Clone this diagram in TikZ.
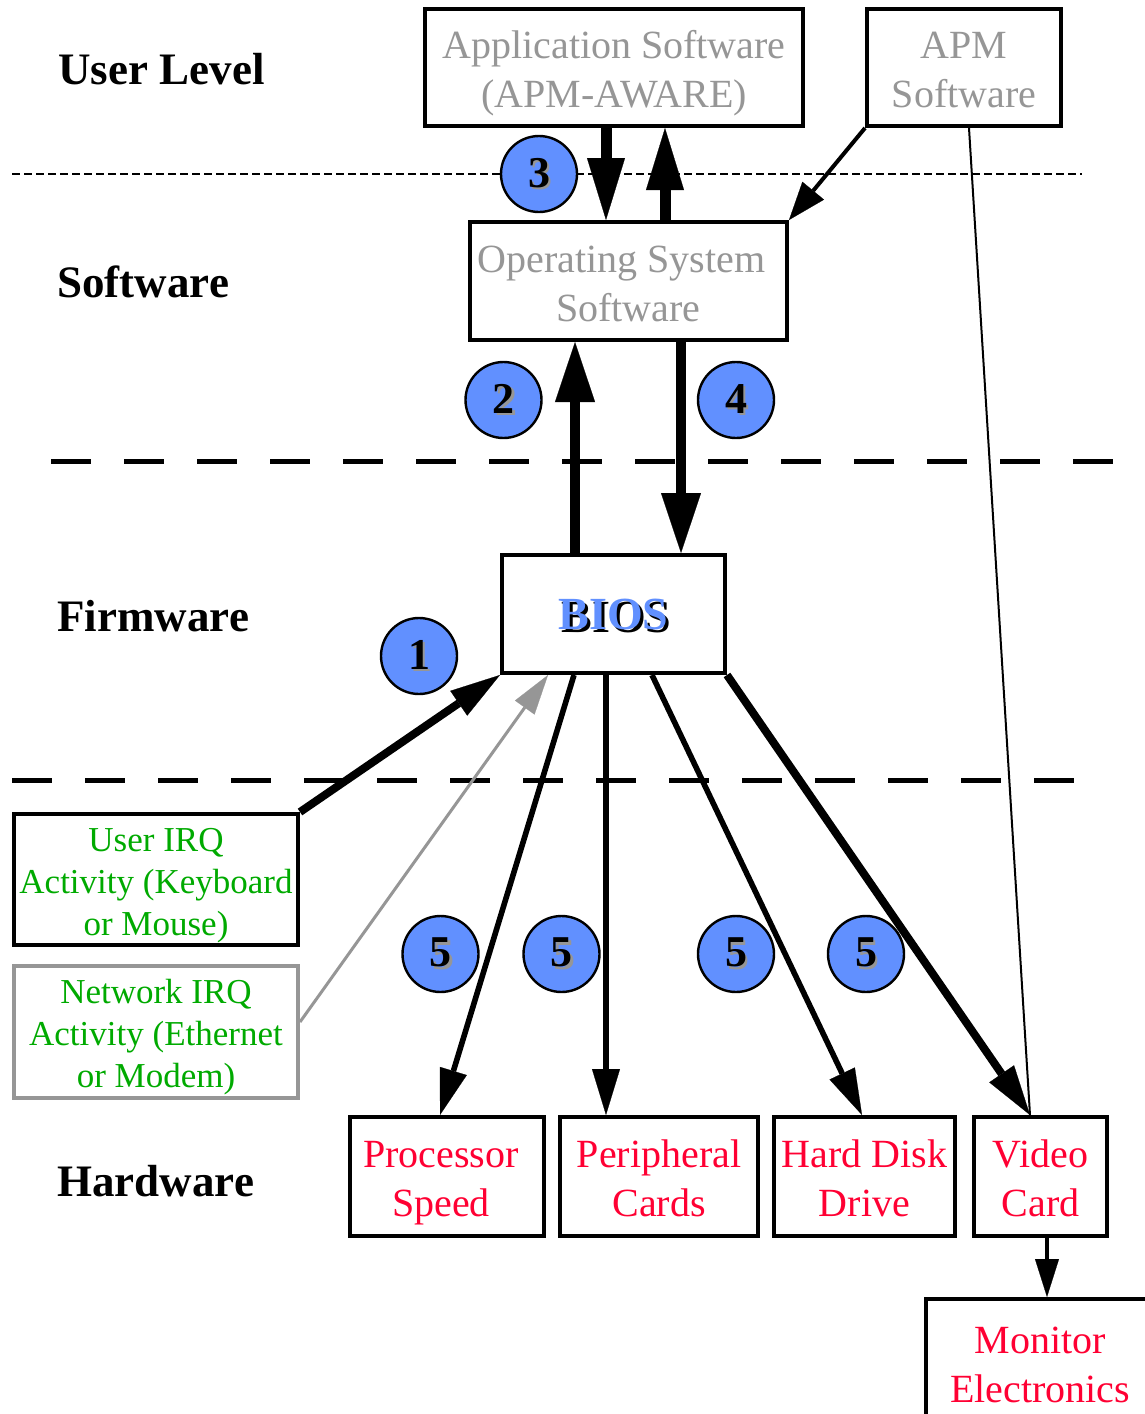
\documentclass[tikz,border=0pt]{standalone}
\usepackage{fontspec}
\setmainfont{Liberation Serif}
\usetikzlibrary{arrows.meta}
\definecolor{cblue}{RGB}{97,144,255}
\definecolor{tgray}{RGB}{150,150,150}
\definecolor{tgreen}{RGB}{0,170,0}
\definecolor{tred}{RGB}{255,0,51}
\newcommand\shnum[1]{\rlap{\kern1.3pt\raisebox{-1.3pt}{\textcolor{tgray}{#1}}}#1}
\newcommand\ft{\rule{0pt}{1em}}
\newcommand\lb{\rule[-0.22em]{0pt}{0.22em}}
\begin{document}
\begin{tikzpicture}[x=0.5pt,y=-0.5pt,
  box/.style={draw,line width=2.2pt,inner sep=0pt,align=center,
    font=\fontsize{20}{24.5}\selectfont},
  smallbox/.style={box,font=\fontsize{17.5}{21}\selectfont},
  lvl/.style={anchor=base west,inner sep=0pt,font=\fontsize{22.5}{27}\selectfont\bfseries},
  circ/.style={circle,draw,line width=1.2pt,fill=cblue,minimum size=38pt,inner sep=0pt,
    font=\fontsize{22}{26}\selectfont\bfseries},
  sep/.style={line width=2.5pt,dash pattern=on 20pt off 16.5pt},
  dotsep/.style={line width=1.3pt,dash pattern=on 4pt off 2pt},
  bigarr/.style={line width=5.5pt,-{Triangle[length=31pt,width=19pt,line width=0.1pt]}},
  midarr/.style={line width=5pt,-{Triangle[length=30pt,width=20pt,line width=0.1pt]}},
  devarr/.style={line width=2.8pt,-{Triangle[length=23pt,width=14pt,line width=0.1pt]}},
  irqarr/.style={line width=4pt,-{Triangle[length=25pt,width=15pt,line width=0.1pt]}},
  grayarr/.style={line width=1.5pt,draw=tgray,-{Triangle[length=20pt,width=12pt,line width=0.1pt,fill=tgray]}},
  apmarr/.style={line width=2pt,-{Triangle[length=19pt,width=14pt,line width=0.1pt]}},
  monarr/.style={line width=2pt,-{Triangle[length=19pt,width=12pt,line width=0.1pt]}},
]
\useasboundingbox[fill=white] (0,0) rectangle (1145,1414);

% level separators
\draw[dotsep] (12,174) -- (1082,174);
\draw[sep] (51,461) -- (1122,461);
\draw[sep] (12,780) -- (1082,780);

% level labels
\node[lvl] (lu) at (58,84) {User Level};
\node[lvl] (ls) at (57,297) {Software};
\node[lvl] (lf) at (57,631) {Firmware};
\node[lvl] (lh) at (57,1196) {Hardware};

% boxes
\node[box,text=tgray,minimum width=188.8pt,minimum height=58.3pt] (app) at (614,67.5)
  {\ft Application Software\\(APM-AWARE)\lb};
\node[box,text=tgray,minimum width=96.8pt,minimum height=58.3pt] (apm) at (964,67.5)
  {\ft APM\\Software\lb};
\node[box,text=tgray,minimum width=158.3pt,minimum height=58.8pt] (os) at (628.5,281)
  {\ft Operating System\kern7pt\\Software\lb};
\node[box,minimum width=111.3pt,minimum height=58.8pt,font=\fontsize{23}{27}\selectfont\bfseries] (bios) at (613.5,614)
  {\rlap{\kern1.5pt\smash{\raisebox{-1.5pt}{BIOS}}}\textcolor{cblue}{BIOS}};
\node[smallbox,text=tgreen,minimum width=141.8pt,minimum height=65.3pt] (uirq) at (156,879.5)
  {\ft User IRQ\\Activity (Keyboard\\or Mouse)\lb};
\node[smallbox,draw=tgray,text=tgreen,minimum width=141.8pt,minimum height=65.8pt] (nirq) at (156,1032)
  {\ft Network IRQ\\Activity (Ethernet\\or Modem)\lb};
\node[box,text=tred,minimum width=96.8pt,minimum height=59.3pt] (proc) at (447,1176.5)
  {\ft Processor\kern6pt\\Speed\kern6pt\lb};
\node[box,text=tred,minimum width=98.8pt,minimum height=59.3pt] (peri) at (659,1176.5)
  {\ft Peripheral\\Cards\lb};
\node[box,text=tred,minimum width=90.3pt,minimum height=59.3pt] (hd) at (864.5,1176.5)
  {\ft Hard Disk\\Drive\lb};
\node[box,text=tred,minimum width=66.3pt,minimum height=59.3pt] (video) at (1040.5,1176.5)
  {\ft Video\\Card\lb};
\node[box,text=tred,minimum width=113.8pt,minimum height=62.8pt] (mon) at (1040,1362)
  {\ft Monitor\\Electronics\lb};

% connectors
\draw[bigarr] ([xshift=-4pt]app.south) -- ([xshift=-11.25pt]os.north);
\draw[bigarr] ([xshift=18.25pt]os.north) -- ([xshift=25.5pt]app.south);
\draw[midarr] ([xshift=-19.25pt]bios.north) -- ([xshift=-26.75pt]os.south);
\draw[midarr] ([xshift=26.25pt]os.south) -- ([xshift=33.75pt]bios.north);
\draw[apmarr] (apm.south west) -- (os.north east);
\draw[line width=1pt] ([xshift=2.5pt]apm.south) -- ([xshift=-5.25pt]video.north);
\draw[irqarr] (uirq.north east) -- (bios.south west);
\draw[grayarr] ([yshift=5pt]nirq.east) -- ([xshift=-32.75pt]bios.south);
\draw[devarr] ([xshift=-19.75pt]bios.south) -- ([xshift=-3.5pt]proc.north);
\draw[devarr] ([xshift=-3.75pt]bios.south) -- ([xshift=-26.5pt]peri.north);
\draw[devarr] ([xshift=19.25pt]bios.south) -- ([xshift=-1.25pt]hd.north);
\draw[irqarr] (bios.south east) -- ([xshift=-5.25pt]video.north);
\draw[monarr] ([xshift=3.25pt]video.south) -- ([xshift=3.5pt]mon.north);

% step markers
\node[circ] (c3) at (539,174) {\shnum{3}};
\node[circ] (c2) at (503.5,400) {\shnum{2}};
\node[circ] (c4) at (736,400) {\shnum{4}};
\node[circ] (c1) at (419,656) {\shnum{1}};
\node[circ] (c5a) at (440.5,954) {\shnum{5}};
\node[circ] (c5b) at (561.5,954) {\shnum{5}};
\node[circ] (c5c) at (736,954) {\shnum{5}};
\node[circ] (c5d) at (866,954) {\shnum{5}};
\end{tikzpicture}
\end{document}
